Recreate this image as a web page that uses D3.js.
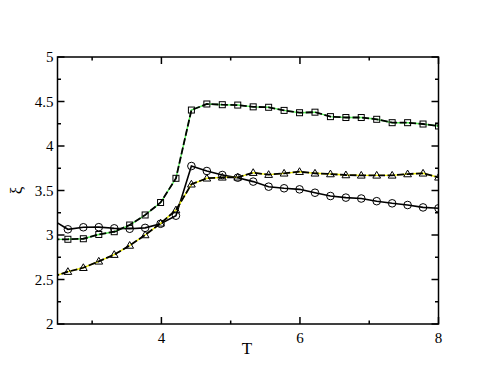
<!DOCTYPE html>
<html>
<head>
<meta charset="utf-8">
<script src="https://cdn.jsdelivr.net/npm/d3@7"></script>
<style>
  html, body { margin: 0; padding: 0; background: #fff; }
  svg { display: block; }
  text { font-family: "Liberation Serif", "DejaVu Serif", serif; }
</style>
</head>
<body>
<svg id="chart" width="494" height="382"></svg>
<script>
// ---- data ----
const temps = [2.427, 2.65, 2.873, 3.096, 3.319, 3.542, 3.765, 3.988, 4.21, 4.433, 4.656, 4.879, 5.102,
  5.325, 5.548, 5.771, 5.994, 6.217, 6.44, 6.663, 6.885, 7.108, 7.331, 7.554, 7.777, 8.0];
const circleSeries = [3.17, 3.064, 3.087, 3.088, 3.075, 3.07, 3.08, 3.126, 3.217, 3.775, 3.719, 3.674, 3.644,
  3.60, 3.543, 3.525, 3.513, 3.475, 3.438, 3.42, 3.41, 3.38, 3.356, 3.337, 3.31, 3.30];
const squareSeries = [2.95, 2.952, 2.958, 3.006, 3.037, 3.112, 3.225, 3.365, 3.637, 4.404, 4.472, 4.464, 4.46,
  4.44, 4.435, 4.40, 4.374, 4.38, 4.33, 4.32, 4.32, 4.30, 4.262, 4.262, 4.247, 4.225];
const triangleSeries = [2.53, 2.588, 2.632, 2.704, 2.779, 2.882, 3.0, 3.131, 3.28, 3.57, 3.637, 3.648, 3.648,
  3.70, 3.678, 3.693, 3.711, 3.693, 3.685, 3.674, 3.67, 3.67, 3.67, 3.685, 3.693, 3.648];
const xTickLabels = [4, 6, 8];
const yTickLabels = [2, 2.5, 3, 3.5, 4, 4.5, 5];
const xLabel = "T";
const yLabel = "ξ";

// ---- layout ----
const svg = d3.select("#chart");
const pL = 57.5, pR = 438.5, pT = 57, pB = 324;
const x = d3.scaleLinear().domain([2.5, 8]).range([pL, pR]);
const y = d3.scaleLinear().domain([2, 5]).range([pB, pT]);

svg.append("defs").append("clipPath").attr("id", "clip")
  .append("rect").attr("x", pL).attr("y", pT).attr("width", pR - pL).attr("height", pB - pT);

const line = d3.line().x(d => x(d[0])).y(d => y(d[1]));
const zip = vals => temps.map((t, i) => [t, vals[i]]);

const plot = svg.append("g").attr("clip-path", "url(#clip)");

// circles series: solid black
plot.append("path").datum(zip(circleSeries)).attr("d", line)
  .attr("fill", "none").attr("stroke", "#000").attr("stroke-width", 1.6);
// squares: green underneath, black dashes
plot.append("path").datum(zip(squareSeries)).attr("d", line)
  .attr("fill", "none").attr("stroke", "#55f055").attr("stroke-width", 1.4);
plot.append("path").datum(zip(squareSeries)).attr("d", line)
  .attr("fill", "none").attr("stroke", "#000").attr("stroke-width", 1.8).attr("stroke-dasharray", "7,2.5");
// triangles: yellow underneath, black dashes
plot.append("path").datum(zip(triangleSeries)).attr("d", line)
  .attr("fill", "none").attr("stroke", "#f0f000").attr("stroke-width", 1.4);
plot.append("path").datum(zip(triangleSeries)).attr("d", line)
  .attr("fill", "none").attr("stroke", "#000").attr("stroke-width", 1.8).attr("stroke-dasharray", "7,2.5");

// markers
const mk = plot.append("g").attr("fill", "none").attr("stroke", "#000").attr("stroke-width", 1);
mk.selectAll("circle.c").data(zip(circleSeries)).join("circle")
  .attr("cx", d => x(d[0])).attr("cy", d => y(d[1])).attr("r", 3.8);
mk.selectAll("rect.s").data(zip(squareSeries)).join("rect")
  .attr("x", d => x(d[0]) - 3).attr("y", d => y(d[1]) - 3).attr("width", 6).attr("height", 6);
const tri = d3.symbol().type(d3.symbolTriangle).size(26);
mk.selectAll("path.t").data(zip(triangleSeries)).join("path")
  .attr("d", tri).attr("transform", d => `translate(${x(d[0])},${y(d[1]) + 0.5})`);

// ---- axes (ticks inside) ----
const fs = 15;
const axisG = svg.append("g").attr("stroke", "#000").attr("stroke-width", 1.5);
axisG.append("rect").attr("x", pL).attr("y", pT).attr("width", pR - pL).attr("height", pB - pT)
  .attr("fill", "none");

const xMajor = [4, 6, 8];
const xMinor = [3, 5, 7];
const yMajor = yTickLabels;
const yMinor = [2.25, 2.75, 3.25, 3.75, 4.25, 4.75];

xMajor.forEach(v => {
  axisG.append("line").attr("x1", x(v)).attr("x2", x(v)).attr("y1", pB).attr("y2", pB - 7);
  axisG.append("line").attr("x1", x(v)).attr("x2", x(v)).attr("y1", pT).attr("y2", pT + 7);
});
xMinor.forEach(v => {
  axisG.append("line").attr("x1", x(v)).attr("x2", x(v)).attr("y1", pB).attr("y2", pB - 3.5);
  axisG.append("line").attr("x1", x(v)).attr("x2", x(v)).attr("y1", pT).attr("y2", pT + 3.5);
});
yMajor.forEach(v => {
  axisG.append("line").attr("x1", pL).attr("x2", pL + 7).attr("y1", y(v)).attr("y2", y(v));
  axisG.append("line").attr("x1", pR).attr("x2", pR - 7).attr("y1", y(v)).attr("y2", y(v));
});
yMinor.forEach(v => {
  axisG.append("line").attr("x1", pL).attr("x2", pL + 3.5).attr("y1", y(v)).attr("y2", y(v));
  axisG.append("line").attr("x1", pR).attr("x2", pR - 3.5).attr("y1", y(v)).attr("y2", y(v));
});

// tick labels
svg.append("g").selectAll("text").data(xTickLabels).join("text")
  .attr("x", d => x(d)).attr("y", pB + 19).attr("text-anchor", "middle")
  .attr("font-size", fs).text(d => d);
svg.append("g").selectAll("text").data(yTickLabels).join("text")
  .attr("x", pL - 4).attr("y", d => y(d) + 5).attr("text-anchor", "end")
  .attr("font-size", fs).text(d => d);

// axis labels
svg.append("text").attr("x", (pL + pR) / 2 - 1).attr("y", 354).attr("text-anchor", "middle")
  .attr("font-size", 17).text(xLabel);
svg.append("text").attr("transform", `translate(22,${y(3.5)}) rotate(-90)`).attr("text-anchor", "middle")
  .attr("font-size", 17).text(yLabel);
</script>
</body>
</html>
